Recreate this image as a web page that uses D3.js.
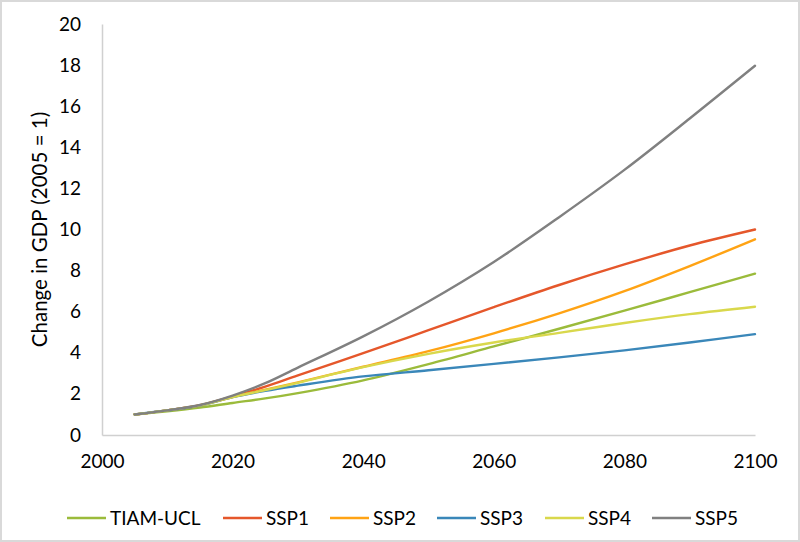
<!DOCTYPE html>
<html>
<head>
<meta charset="utf-8">
<script src="https://cdn.jsdelivr.net/npm/d3@7"></script>
<style>
  body { margin: 0; background: #fff; }
  svg { display: block; font-family: Lato, "Open Sans", sans-serif; }
</style>
</head>
<body>
<div class="visContainer"></div>
<script>
// Data.
const years = [2005, 2010, 2015, 2020, 2025, 2030, 2040, 2050, 2060, 2070, 2080, 2090, 2100];
const tiamUcl = [1, 1.15, 1.33, 1.56, 1.78, 2.04, 2.66, 3.45, 4.31, 5.17, 6.05, 6.95, 7.85];
const ssp1 = [1, 1.2, 1.45, 1.88, 2.35, 2.9, 3.98, 5.1, 6.22, 7.3, 8.3, 9.22, 10.0];
const ssp2 = [1, 1.2, 1.44, 1.85, 2.2, 2.56, 3.32, 4.08, 4.95, 5.92, 7.0, 8.22, 9.52];
const ssp3 = [1, 1.2, 1.43, 1.84, 2.15, 2.4, 2.85, 3.15, 3.46, 3.78, 4.12, 4.5, 4.91];
const ssp4 = [1, 1.2, 1.44, 1.85, 2.18, 2.54, 3.3, 3.95, 4.5, 4.97, 5.45, 5.88, 6.24];
const ssp5 = [1, 1.2, 1.46, 1.92, 2.52, 3.28, 4.8, 6.5, 8.42, 10.6, 12.9, 15.4, 17.97];

const seriesNames = ['TIAM-UCL', 'SSP1', 'SSP2', 'SSP3', 'SSP4', 'SSP5'];
const seriesValues = [tiamUcl, ssp1, ssp2, ssp3, ssp4, ssp5];
const colors = ['#9BBB3B', '#E5572B', '#FFA314', '#3A87B9', '#D9D84C', '#808080'];

const xTicks = [2000, 2020, 2040, 2060, 2080, 2100];
const yTicks = [0, 2, 4, 6, 8, 10, 12, 14, 16, 18, 20];

// SVG constants.
const width = 800;
const height = 542;
const plotLeft = 102, plotRight = 755, plotTop = 24, plotBottom = 435;

const xScale = d3.scaleLinear().domain([2000, 2100]).range([plotLeft, plotRight]);
const yScale = d3.scaleLinear().domain([0, 20]).range([plotBottom, plotTop]);

const svg = d3.select('.visContainer')
              .append('svg')
              .attr('width', width)
              .attr('height', height);

// Outer border.
svg.append('rect')
   .attr('x', 1)
   .attr('y', 1)
   .attr('width', width - 2)
   .attr('height', height - 2)
   .attr('fill', '#fff')
   .attr('stroke', '#d9d9d9')
   .attr('stroke-width', 2);

// Axes.
const xAxis = d3.axisBottom(xScale).tickValues(xTicks).tickSize(0).tickPadding(20).tickFormat(d3.format('d'));
const yAxis = d3.axisLeft(yScale).tickValues(yTicks).tickSize(0).tickPadding(21);

const gx = svg.append('g')
              .attr('transform', 'translate(0,' + plotBottom + ')')
              .call(xAxis);
const gy = svg.append('g')
              .attr('transform', 'translate(' + plotLeft + ',0)')
              .call(yAxis);

[gx, gy].forEach((g) => {
  g.select('.domain').attr('stroke', '#d0d0d0').attr('stroke-width', 1.5);
  g.selectAll('text').attr('font-size', '19px').attr('fill', '#000').attr('font-family', 'Lato, sans-serif');
});

// Axis title.
svg.append('text')
   .attr('transform', 'translate(47,' + ((plotTop + plotBottom) / 2) + ') rotate(-90)')
   .attr('text-anchor', 'middle')
   .attr('font-size', '20.5px')
   .attr('fill', '#000')
   .text('Change in GDP (2005 = 1)');

// Lines.
const line = d3.line()
               .x((d) => xScale(d[0]))
               .y((d) => yScale(d[1]))
               .curve(d3.curveCatmullRom.alpha(0.5));

seriesValues.forEach((vals, i) => {
  svg.append('path')
     .datum(years.map((y, j) => [y, vals[j]]))
     .attr('fill', 'none')
     .attr('stroke', colors[i])
     .attr('stroke-width', 2.4)
     .attr('stroke-linecap', 'round')
     .attr('d', line);
});

// Legend.
const legendX = [67, 223, 330, 437, 545, 652];
const legend = svg.append('g');
seriesNames.forEach((name, i) => {
  legend.append('line')
        .attr('x1', legendX[i])
        .attr('x2', legendX[i] + 39)
        .attr('y1', 518)
        .attr('y2', 518)
        .attr('stroke', colors[i])
        .attr('stroke-width', 2.4);
  legend.append('text')
        .attr('x', legendX[i] + 43)
        .attr('y', 518)
        .attr('dy', '0.35em')
        .attr('font-size', '19px')
        .attr('fill', '#000')
        .text(name);
});
</script>
</body>
</html>
